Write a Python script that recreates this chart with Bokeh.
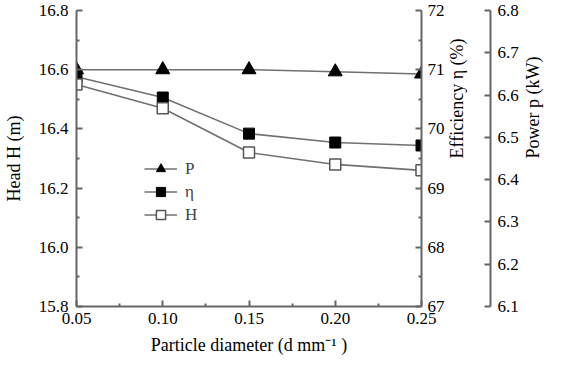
import math
from bokeh.plotting import figure
from bokeh.models import (Range1d, LinearAxis, FixedTicker, Legend, LegendItem,
                          PrintfTickFormatter)
from bokeh.embed import file_html
from bokeh.resources import INLINE

# ---- data ----
diameter = [0.05, 0.10, 0.15, 0.20, 0.25]
head = [16.55, 16.47, 16.32, 16.28, 16.26]          # Head H (m), left axis
efficiency = [70.88, 70.53, 69.92, 69.77, 69.72]    # Efficiency eta (%), right axis
power = [6.66, 6.66, 6.66, 6.655, 6.65]             # Power p (kW), far right axis

x_ticks = [0.05, 0.10, 0.15, 0.20, 0.25]
x_minor = [0.075, 0.125, 0.175, 0.225]
head_ticks = [15.8, 16.0, 16.2, 16.4, 16.6, 16.8]
head_minor = [15.9, 16.1, 16.3, 16.5, 16.7]
eff_ticks = [67, 68, 69, 70, 71, 72]
eff_minor = [67.5, 68.5, 69.5, 70.5, 71.5]
pow_ticks = [6.1, 6.2, 6.3, 6.4, 6.5, 6.6, 6.7, 6.8]

x_title = "Particle diameter (d mm\u207b\u00b9 )"
head_title = "Head H (m)"
eff_title = "Efficiency \u03b7 (%)"
pow_title = "Power p (kW)"

FONT = "Liberation Serif"
TICK_FONT = "'Liberation Serif', serif"
AXIS_COL = "#666666"
LINE_COL = "#707070"
TICK_FS = "17px"
TITLE_FS = "18px"

p = figure(width=555, height=360,
           x_range=Range1d(0.05, 0.25), y_range=Range1d(15.8, 16.8),
           output_backend="svg", toolbar_location=None,
           min_border_left=76, min_border_right=122,
           min_border_top=10, min_border_bottom=54)
p.extra_y_ranges = {"eff": Range1d(67, 72), "pow": Range1d(6.1, 6.8)}
p.outline_line_color = None
p.xgrid.visible = False
p.ygrid.visible = False
p.background_fill_color = "white"
p.border_fill_color = "white"


def style(ax, fmt, ticks, minor=None, tick_len=6):
    ax.ticker = FixedTicker(ticks=ticks, minor_ticks=minor or [])
    ax.formatter = PrintfTickFormatter(format=fmt)
    ax.axis_line_color = AXIS_COL
    ax.axis_line_width = 2
    ax.major_tick_line_color = AXIS_COL
    ax.major_tick_line_width = 2
    ax.major_tick_in = tick_len
    ax.major_tick_out = 0
    ax.minor_tick_line_color = AXIS_COL if minor else None
    ax.minor_tick_line_width = 2
    ax.minor_tick_in = 3
    ax.minor_tick_out = 0
    ax.major_label_text_font = TICK_FONT
    ax.major_label_text_font_size = TICK_FS
    ax.major_label_text_color = "black"
    ax.axis_label = None


def title_axis(ax, text, standoff, bounds="auto", orientation=None):
    """An axis that only carries a title (no line, no ticks)."""
    ax.ticker = FixedTicker(ticks=[])
    ax.bounds = bounds
    ax.axis_line_color = None
    ax.major_tick_line_color = None
    ax.minor_tick_line_color = None
    ax.major_tick_in = 0
    ax.major_tick_out = 0
    ax.minor_tick_in = 0
    ax.minor_tick_out = 0
    ax.major_label_standoff = 0
    ax.major_label_text_alpha = 0
    ax.axis_label = text
    ax.axis_label_standoff = standoff
    ax.axis_label_text_font = FONT
    ax.axis_label_text_font_size = TITLE_FS
    ax.axis_label_text_font_style = "normal"
    ax.axis_label_text_color = "black"
    if orientation is not None:
        ax.axis_label_orientation = orientation


# bottom axis + its title
xa = p.xaxis[0]
style(xa, "%.2f", x_ticks, x_minor)
xa.major_label_standoff = 6
xt = LinearAxis()
title_axis(xt, x_title, 8, (0.0741, 0.25))
p.add_layout(xt, "below")

# left axis + its title
ya = p.yaxis[0]
style(ya, "%.1f", head_ticks, head_minor)
ya.major_label_standoff = 8
yt = LinearAxis()
title_axis(yt, head_title, 12, (15.922, 16.8))
p.add_layout(yt, "left")

# efficiency axis (right, on frame) + title
ea = LinearAxis(y_range_name="eff")
style(ea, "%.0f", eff_ticks, eff_minor)
ea.major_label_standoff = 6
p.add_layout(ea, "right")
et = LinearAxis(y_range_name="eff")
title_axis(et, eff_title, 9, (67.0, 70.28), math.pi / 2)
p.add_layout(et, "right")

# spacer between the two right axes
sp = LinearAxis(y_range_name="eff")
title_axis(sp, ".", 5)
sp.axis_label_text_alpha = 0
sp.axis_label_text_font_size = "4px"
p.add_layout(sp, "right")

# power axis (far right) + title
pa = LinearAxis(y_range_name="pow")
style(pa, "%.1f", pow_ticks, None)
pa.major_label_standoff = 7
p.add_layout(pa, "right")
pt = LinearAxis(y_range_name="pow")
title_axis(pt, pow_title, 11, (6.1, 6.672), math.pi / 2)
p.add_layout(pt, "right")

# ---- series ----
lp = p.line(diameter, power, y_range_name="pow", line_color=LINE_COL, line_width=1.6)
mp = p.scatter(diameter, power, y_range_name="pow", marker="triangle", size=14,
               fill_color="black", line_color="black")

le = p.line(diameter, efficiency, y_range_name="eff", line_color=LINE_COL, line_width=1.6)
me = p.scatter(diameter, efficiency, y_range_name="eff", marker="square", size=11,
               fill_color="black", line_color="black")

lh = p.line(diameter, head, line_color=LINE_COL, line_width=1.6)
mh = p.scatter(diameter, head, marker="square", size=11,
               fill_color="white", line_color="#555555", line_width=1.5)

legend = Legend(items=[LegendItem(label="P", renderers=[lp, mp]),
                       LegendItem(label="\u03b7", renderers=[le, me]),
                       LegendItem(label="H", renderers=[lh, mh])],
                location=(68, 80), orientation="vertical")
legend.padding = 0
legend.margin = 0
legend.glyph_width = 33
legend.glyph_height = 23
legend.label_height = 20
legend.spacing = 0
legend.label_standoff = 8
legend.label_text_font = FONT
legend.label_text_font_size = "17px"
legend.background_fill_alpha = 0
legend.border_line_color = None
p.add_layout(legend, "center")

open("out.html", "w").write(file_html(p, INLINE))
